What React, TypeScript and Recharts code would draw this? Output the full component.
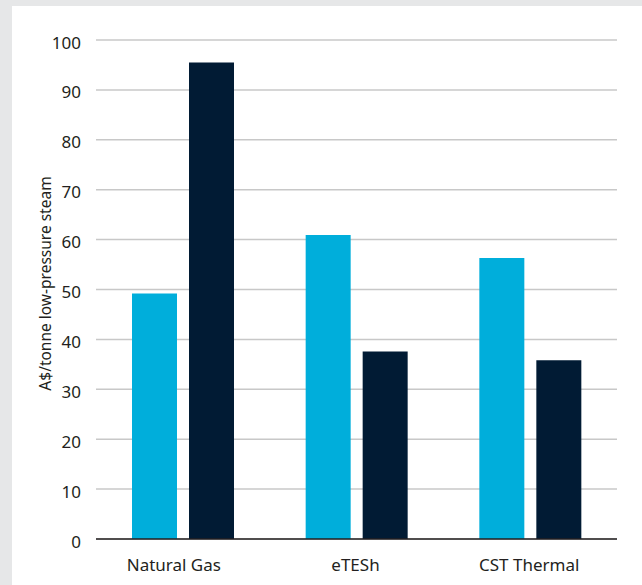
import { Bar, BarChart, CartesianGrid, Text, XAxis, YAxis } from 'recharts'

const categories = ['Natural Gas', 'eTESh', 'CST Thermal']
const seriesA = [49.2, 60.9, 56.3]
const seriesB = [95.5, 37.6, 35.8]
const yTicks = [0, 10, 20, 30, 40, 50, 60, 70, 80, 90, 100]

const data = categories.map((name, i) => ({ name, a: seriesA[i], b: seriesB[i] }))

const font = '"Noto Sans", "Open Sans", sans-serif'
const textColor = '#231f20'

// the first category label sits a little left of its bar pair in the original
function CategoryTick(props: any) {
  const { x, y, payload, index } = props
  return (
    <Text
      x={x}
      y={y}
      dx={index === 0 ? -9 : -1}
      textAnchor="middle"
      verticalAnchor="start"
      fill={textColor}
      fontSize={17}
      fontFamily={font}
    >
      {payload.value}
    </Text>
  )
}

export default function App() {
  return (
    <div
      style={{
        position: 'fixed',
        left: 0,
        top: 0,
        width: 642,
        height: 585,
        background: '#e6e7e8',
      }}
    >
      <div
        style={{
          position: 'absolute',
          left: 12,
          top: 6,
          width: 630,
          height: 579,
          background: '#ffffff',
        }}
      >
        <BarChart
          width={630}
          height={579}
          data={data}
          margin={{ top: 34, right: 25, bottom: 16, left: 0 }}
          barSize={45}
          barGap={12}
          style={{ fontFamily: font }}
        >
          <CartesianGrid vertical={false} stroke="#c8c8c8" strokeWidth={1.5} />
          <XAxis
            dataKey="name"
            height={30}
            tickLine={false}
            tickSize={0}
            tickMargin={20}
            axisLine={{ stroke: textColor, strokeWidth: 1.5 }}
            tick={<CategoryTick />}
          />
          <YAxis
            width={84}
            domain={[0, 100]}
            ticks={yTicks}
            interval={0}
            axisLine={false}
            tickLine={false}
            tickSize={0}
            tickMargin={15}
            tick={{ fill: textColor, fontSize: 17, fontFamily: font, dy: 2.5 }}
            label={{
              value: 'A$/tonne low-pressure steam',
              angle: -90,
              position: 'center',
              dx: -9,
              dy: -6,
              fill: textColor,
              fontSize: 15.5,
              fontFamily: font,
            }}
          />
          <Bar dataKey="a" fill="#00aedb" isAnimationActive={false} />
          <Bar dataKey="b" fill="#011b34" isAnimationActive={false} />
        </BarChart>
      </div>
    </div>
  )
}
